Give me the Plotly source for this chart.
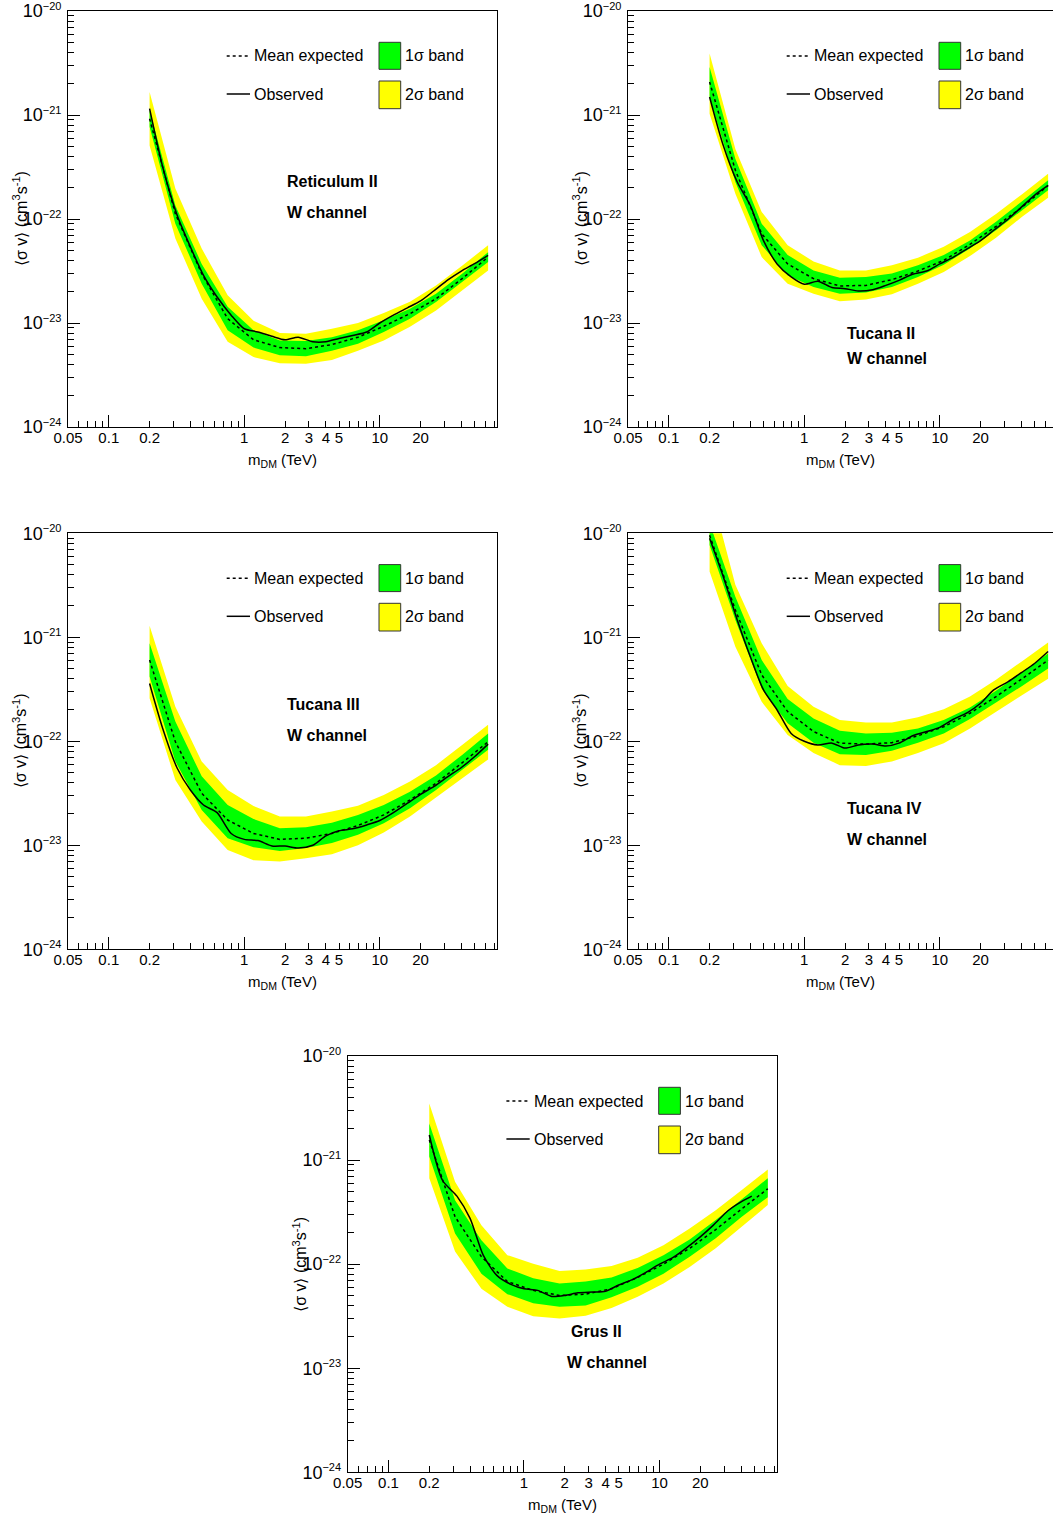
import math
import plotly.graph_objects as go

FIG_W, FIG_H = 1053, 1519
PX_PER_DECADE = 135.5
X_MIN = 0.05
FONT = "Liberation Sans, Arial, Helvetica, sans-serif"
YELLOW = "#ffff00"
GREEN = "#00ff00"

# ---------------- data (TeV, cm^3 s^-1) ----------------
mass_band = [0.2, 0.31, 0.485, 0.754, 1.17, 1.83, 2.85, 4.43, 6.9, 10.7, 16.7, 26.0, 40.5, 63.0]
mass_obs = [0.2, 0.25, 0.32, 0.4, 0.5, 0.63, 0.8, 1.0, 1.26, 1.6, 2.0, 2.5, 3.2, 4.0, 5.0,
            6.3, 8.0, 10, 12.6, 16, 20, 25, 32, 40, 50, 63]
mass_obs_grus = [0.2, 0.25, 0.32, 0.4, 0.5, 0.63, 0.8, 1.0, 1.26, 1.6, 2.0, 2.5, 3.2, 4.0, 5.0,
                 6.3, 8.0, 10, 12.6, 16, 20, 25, 32, 40, 48]

# Reticulum II
ret_2s_hi = [1.66e-21, 1.96e-22, 5.2e-23, 1.85e-23, 1.05e-23, 8.0e-24, 7.9e-24, 8.8e-24, 1.0e-23, 1.25e-23, 1.6e-23, 2.3e-23, 3.55e-23, 5.6e-23]
ret_2s_lo = [5.1e-22, 6.5e-23, 1.71e-23, 6.6e-24, 4.7e-24, 4.1e-24, 4.06e-24, 4.4e-24, 5.4e-24, 6.8e-24, 9.2e-24, 1.32e-23, 2.06e-23, 3.2e-23]
ret_1s_hi = [1.11e-21, 1.35e-22, 3.7e-23, 1.43e-23, 8.5e-24, 6.8e-24, 6.7e-24, 7.3e-24, 8.5e-24, 1.06e-23, 1.37e-23, 1.91e-23, 2.98e-23, 4.8e-23]
ret_1s_lo = [7.7e-22, 9.0e-23, 2.39e-23, 8.5e-24, 5.8e-24, 4.9e-24, 4.8e-24, 5.4e-24, 6.3e-24, 8.2e-24, 1.1e-23, 1.59e-23, 2.48e-23, 3.86e-23]
ret_mean = [9.2e-22, 1.12e-22, 2.98e-23, 1.1e-23, 6.9e-24, 5.8e-24, 5.66e-24, 6.2e-24, 7.3e-24, 9.3e-24, 1.23e-23, 1.71e-23, 2.67e-23, 4.3e-23]
ret_obs = [1.15e-21, 3.16e-22, 1.08e-22, 5.4e-23, 2.87e-23, 1.78e-23, 1.19e-23, 8.8e-24, 8.2e-24, 7.45e-24, 6.9e-24, 7.3e-24, 6.6e-24,
           6.6e-24, 7.1e-24, 7.6e-24, 8.2e-24, 1.0e-23, 1.19e-23, 1.40e-23, 1.63e-23, 2.03e-23, 2.61e-23, 3.16e-23, 3.72e-23, 4.48e-23]

# Tucana II
tuc2_2s_hi = [3.9e-21, 4.7e-22, 1.17e-22, 5.6e-23, 3.9e-23, 3.2e-23, 3.2e-23, 3.6e-23, 4.25e-23, 5.4e-23, 7.5e-23, 1.12e-22, 1.73e-22, 2.73e-22]
tuc2_2s_lo = [1.03e-21, 1.75e-22, 4.3e-23, 2.39e-23, 1.91e-23, 1.62e-23, 1.68e-23, 1.89e-23, 2.39e-23, 3.1e-23, 4.4e-23, 6.6e-23, 1.05e-22, 1.6e-22]
tuc2_1s_hi = [2.9e-21, 3.8e-22, 9.0e-23, 4.5e-23, 3.2e-23, 2.73e-23, 2.77e-23, 3.0e-23, 3.6e-23, 4.5e-23, 6.2e-23, 9.4e-23, 1.48e-22, 2.36e-22]
tuc2_1s_lo = [1.49e-21, 2.27e-22, 5.6e-23, 2.87e-23, 2.22e-23, 1.91e-23, 1.97e-23, 2.22e-23, 2.77e-23, 3.64e-23, 5.2e-23, 7.8e-23, 1.21e-22, 1.89e-22]
tuc2_mean = [2.08e-21, 2.94e-22, 7.2e-23, 3.7e-23, 2.67e-23, 2.27e-23, 2.3e-23, 2.61e-23, 3.16e-23, 4.0e-23, 5.7e-23, 8.5e-23, 1.3e-22, 2.1e-22]
tuc2_obs = [1.49e-21, 5.3e-22, 2.27e-22, 1.35e-22, 6.2e-23, 3.7e-23, 2.77e-23, 2.36e-23, 2.52e-23, 2.19e-23, 2.14e-23, 2.03e-23, 2.09e-23,
            2.3e-23, 2.57e-23, 2.94e-23, 3.16e-23, 3.7e-23, 4.3e-23, 5.2e-23, 6.2e-23, 7.8e-23, 1.0e-22, 1.3e-22, 1.69e-22, 2.1e-22]

# Tucana III
tuc3_2s_hi = [1.29e-21, 2.15e-22, 6.4e-23, 3.4e-23, 2.39e-23, 1.89e-23, 1.89e-23, 2.11e-23, 2.4e-23, 3.05e-23, 4.1e-23, 5.9e-23, 9.2e-23, 1.44e-22]
tuc3_2s_lo = [2.6e-22, 4.25e-23, 1.69e-23, 9.0e-24, 7.2e-24, 7.0e-24, 7.5e-24, 8.2e-24, 1.0e-23, 1.33e-23, 1.89e-23, 2.83e-23, 4.4e-23, 6.7e-23]
tuc3_1s_hi = [8.75e-22, 1.55e-22, 4.6e-23, 2.44e-23, 1.79e-23, 1.46e-23, 1.49e-23, 1.65e-23, 1.96e-23, 2.44e-23, 3.28e-23, 4.7e-23, 7.4e-23, 1.19e-22]
tuc3_1s_lo = [4.2e-22, 6.4e-23, 2.19e-23, 1.17e-23, 9.6e-24, 8.8e-24, 9.4e-24, 1.05e-23, 1.26e-23, 1.63e-23, 2.27e-23, 3.4e-23, 5.3e-23, 8.3e-23]
tuc3_mean = [6.05e-22, 9.9e-23, 3.16e-23, 1.75e-23, 1.3e-23, 1.14e-23, 1.17e-23, 1.3e-23, 1.55e-23, 1.96e-23, 2.73e-23, 3.95e-23, 6.2e-23, 9.9e-23]
tuc3_obs = [3.6e-22, 1.33e-22, 5.5e-23, 3.4e-23, 2.44e-23, 2.06e-23, 1.3e-23, 1.14e-23, 1.11e-23, 9.85e-24, 9.85e-24, 9.4e-24, 1.0e-23,
            1.23e-23, 1.38e-23, 1.44e-23, 1.57e-23, 1.73e-23, 2.06e-23, 2.54e-23, 3.09e-23, 3.67e-23, 4.6e-23, 5.6e-23, 7.1e-23, 9.4e-23]

# Tucana IV
tuc4_2s_hi = [2.81e-20, 3.2e-21, 8.75e-22, 3.4e-22, 2.15e-22, 1.6e-22, 1.52e-22, 1.52e-22, 1.7e-22, 2.03e-22, 2.69e-22, 3.9e-22, 5.9e-22, 8.9e-22]
tuc4_2s_lo = [4.3e-21, 8.1e-22, 2.4e-22, 1.15e-22, 7.7e-23, 5.9e-23, 5.8e-23, 6.4e-23, 7.7e-23, 9.6e-23, 1.33e-22, 1.93e-22, 2.79e-22, 4.0e-22]
tuc4_1s_hi = [1.25e-20, 2.46e-21, 6.05e-22, 2.55e-22, 1.66e-22, 1.26e-22, 1.19e-22, 1.21e-22, 1.33e-22, 1.6e-22, 2.11e-22, 3.07e-22, 4.6e-22, 7.0e-22]
tuc4_1s_lo = [7.7e-21, 1.47e-21, 3.2e-22, 1.49e-22, 9.7e-23, 7.5e-23, 7.4e-23, 8.1e-23, 9.7e-23, 1.19e-22, 1.64e-22, 2.36e-22, 3.4e-22, 5.0e-22]
tuc4_mean = [9.6e-21, 1.83e-21, 4.35e-22, 1.93e-22, 1.24e-22, 9.6e-23, 9.4e-23, 9.7e-23, 1.13e-22, 1.38e-22, 1.86e-22, 2.69e-22, 4.0e-22, 6.05e-22]
tuc4_obs = [8.95e-21, 3.97e-21, 1.47e-21, 6.5e-22, 3.12e-22, 2.0e-22, 1.19e-22, 1.0e-22, 9.2e-23, 9.6e-23, 8.6e-23, 9.2e-23, 9.4e-23,
            9.0e-23, 9.6e-23, 1.13e-22, 1.24e-22, 1.36e-22, 1.63e-22, 1.89e-22, 2.32e-22, 3.12e-22, 3.75e-22, 4.57e-22, 5.6e-22, 7.3e-22]

# Grus II
grus_2s_hi = [3.5e-21, 6.2e-22, 2.37e-22, 1.22e-22, 1.01e-22, 8.6e-23, 8.9e-23, 9.6e-23, 1.15e-22, 1.52e-22, 2.2e-22, 3.3e-22, 5.15e-22, 8.1e-22]
grus_2s_lo = [6.7e-22, 1.32e-22, 5.8e-23, 3.9e-23, 3.16e-23, 3.0e-23, 3.2e-23, 3.8e-23, 4.85e-23, 6.5e-23, 9.4e-23, 1.42e-22, 2.29e-22, 3.7e-22]
grus_1s_hi = [2.25e-21, 4.1e-22, 1.7e-22, 9.1e-23, 7.3e-23, 6.5e-23, 6.8e-23, 7.45e-23, 9.2e-23, 1.22e-22, 1.73e-22, 2.65e-22, 4.2e-22, 6.7e-22]
grus_1s_lo = [1.08e-21, 1.97e-22, 8.1e-23, 5.15e-23, 4.2e-23, 3.9e-23, 4.0e-23, 4.8e-23, 6.05e-23, 8.1e-23, 1.18e-22, 1.77e-22, 2.85e-22, 4.4e-22]
grus_mean = [1.56e-21, 2.85e-22, 1.18e-22, 6.8e-23, 5.6e-23, 5.0e-23, 5.15e-23, 5.8e-23, 7.45e-23, 1.0e-22, 1.42e-22, 2.15e-22, 3.4e-22, 5.3e-22]
grus_obs = [1.74e-21, 6.4e-22, 4.5e-22, 2.75e-22, 1.22e-22, 7.8e-23, 6.4e-23, 5.8e-23, 5.6e-23, 4.9e-23, 5.0e-23, 5.3e-23, 5.4e-23,
            5.5e-23, 6.3e-23, 7.1e-23, 8.4e-23, 1.0e-22, 1.16e-22, 1.45e-22, 1.83e-22, 2.37e-22, 3.26e-22, 3.97e-22, 4.5e-22]

x_tick_vals = [0.05, 0.1, 0.2, 1, 2, 3, 4, 5, 10, 20]
x_tick_text = ["0.05", "0.1", "0.2", "1", "2", "3", "4", "5", "10", "20"]
x_long_ticks = [0.1, 1, 10]
y_tick_vals = [1e-24, 1e-23, 1e-22, 1e-21, 1e-20]
y_exponents = ["\u221224", "\u221223", "\u221222", "\u221221", "\u221220"]
y_tick_text = ["10<sup><span style='font-size:11px'>" + e + "</span></sup>" for e in y_exponents]

# ---------------- layout of panels (pixel boxes) ----------------
panels = [
    dict(name="Reticulum II", box=(68, 11, 497, 427), mirror=True,
         lab1=(217, 171), lab2=(217, 201.5),
         d=(ret_2s_hi, ret_2s_lo, ret_1s_hi, ret_1s_lo, ret_mean, mass_obs, ret_obs)),
    dict(name="Tucana II", box=(628, 11, 1053, 427), mirror=False,
         lab1=(216.5, 322.5), lab2=(216.5, 347.5),
         d=(tuc2_2s_hi, tuc2_2s_lo, tuc2_1s_hi, tuc2_1s_lo, tuc2_mean, mass_obs, tuc2_obs)),
    dict(name="Tucana III", box=(68, 533.3, 497, 949.3), mirror=True,
         lab1=(217, 171), lab2=(217, 202.4),
         d=(tuc3_2s_hi, tuc3_2s_lo, tuc3_1s_hi, tuc3_1s_lo, tuc3_mean, mass_obs, tuc3_obs)),
    dict(name="Tucana IV", box=(628, 533.3, 1053, 949.3), mirror=False,
         lab1=(216.5, 275), lab2=(216.5, 306),
         d=(tuc4_2s_hi, tuc4_2s_lo, tuc4_1s_hi, tuc4_1s_lo, tuc4_mean, mass_obs, tuc4_obs)),
    dict(name="Grus II", box=(347.7, 1056, 777.3, 1472.3), mirror=True,
         lab1=(221.6, 275.7), lab2=(217.3, 306.3),
         d=(grus_2s_hi, grus_2s_lo, grus_1s_hi, grus_1s_lo, grus_mean, mass_obs_grus, grus_obs)),
]

minor_x = [0.06, 0.07, 0.08, 0.09, 0.3, 0.4, 0.5, 0.6, 0.7, 0.8, 0.9, 6, 7, 8, 9, 30, 40, 50, 60, 70]
minor_y = [k * 10.0 ** e for e in range(-24, -20) for k in range(2, 10)]

fig = go.Figure()
axes = {}
shapes = []
annots = []

for i, p in enumerate(panels, start=1):
    s = "" if i == 1 else str(i)
    xn, yn = "x" + s, "y" + s
    x0, y0, x1, y1 = p["box"]
    pw, ph = x1 - x0, y1 - y0
    xdom = [x0 / FIG_W, min(x1 / FIG_W, 1.0)]
    ydom = [1 - y1 / FIG_H, 1 - y0 / FIG_H]
    lo = math.log10(X_MIN)
    hi = lo + pw / PX_PER_DECADE
    y2h, y2l, y1h, y1l, mean, mo, obs = p["d"]
    m = mass_band

    fig.add_trace(go.Scatter(x=m + m[::-1], y=y2h + y2l[::-1], fill="toself", fillcolor=YELLOW,
                             mode="lines", line=dict(width=0), xaxis=xn, yaxis=yn,
                             showlegend=False, hoverinfo="skip"))
    fig.add_trace(go.Scatter(x=m + m[::-1], y=y1h + y1l[::-1], fill="toself", fillcolor=GREEN,
                             mode="lines", line=dict(width=0), xaxis=xn, yaxis=yn,
                             showlegend=False, hoverinfo="skip"))
    fig.add_trace(go.Scatter(x=m, y=mean, mode="lines",
                             line=dict(color="black", width=1.5, dash="3px,3px"),
                             xaxis=xn, yaxis=yn, showlegend=False))
    fig.add_trace(go.Scatter(x=mo, y=obs, mode="lines",
                             line=dict(color="black", width=1.5, shape="spline", smoothing=0.7),
                             xaxis=xn, yaxis=yn, showlegend=False))

    axes["xaxis" + s] = dict(
        domain=xdom, anchor=yn, type="log", range=[lo, hi],
        tickmode="array", tickvals=x_tick_vals, ticktext=x_tick_text,
        ticks="inside", ticklen=6, tickwidth=1, tickcolor="black",
        minor=dict(tickmode="array", tickvals=minor_x, ticks="inside", ticklen=6,
                   tickwidth=1, tickcolor="black", showgrid=False),
        showline=True, linecolor="black", linewidth=1, mirror=True,
        showgrid=False, zeroline=False, automargin=False,
        ticklabeloverflow="allow", ticklabelstandoff=-3,
        tickfont=dict(size=15, color="black"),
        title=dict(text="m<sub>DM</sub> (TeV)", font=dict(size=15, color="black"), standoff=9),
    )
    # long ticks at decades
    ov = "x" + str(5 + i)
    axes["xaxis" + str(5 + i)] = dict(
        overlaying=xn, anchor=yn, domain=xdom, type="log", range=[lo, hi],
        tickmode="array", tickvals=x_long_ticks, ticks="inside", ticklen=12, tickwidth=1,
        tickcolor="black", showticklabels=False, showline=False, showgrid=False,
        zeroline=False, automargin=False,
    )
    fig.add_trace(go.Scatter(x=[], y=[], xaxis=ov, yaxis=yn, showlegend=False, hoverinfo="skip"))

    axes["yaxis" + s] = dict(
        domain=ydom, anchor=xn, type="log", range=[-24, -20],
        tickmode="array", tickvals=y_tick_vals, ticktext=y_tick_text,
        ticks="inside", ticklen=12, tickwidth=1, tickcolor="black",
        minor=dict(tickmode="array", tickvals=minor_y, ticks="inside", ticklen=6,
                   tickwidth=1, tickcolor="black", showgrid=False),
        showline=True, linecolor="black", linewidth=1, mirror=p["mirror"],
        showgrid=False, zeroline=False, automargin=False,
        ticklabeloverflow="allow", ticklabelstandoff=2,
        tickfont=dict(size=18, color="black"),
    )

    xr, yr = xn + " domain", yn + " domain"

    # y-axis title
    annots.append(dict(text="\u27e8\u03c3 v\u27e9 (cm<sup>3</sup>s<sup>-1</sup>)", xref="paper", yref=yr,
                       x=(x0 - 48) / FIG_W, y=0.5, textangle=-90, xanchor="center", yanchor="middle",
                       showarrow=False, font=dict(size=16, color="black")))

    def fx(px):
        return px / pw

    def fy(py):
        return 1 - py / ph

    # legend: line samples
    shapes.append(dict(type="line", xref=xr, yref=yr, x0=fx(158.7), x1=fx(182), y0=fy(45), y1=fy(45),
                       line=dict(color="black", width=1.5, dash="3px,3px")))
    shapes.append(dict(type="line", xref=xr, yref=yr, x0=fx(158.7), x1=fx(182), y0=fy(83), y1=fy(83),
                       line=dict(color="black", width=1.5)))
    # legend: band boxes
    shapes.append(dict(type="rect", xref=xr, yref=yr, x0=fx(311), x1=fx(332.7), y0=fy(31.3), y1=fy(58.3),
                       fillcolor=GREEN, line=dict(color="#333333", width=1)))
    shapes.append(dict(type="rect", xref=xr, yref=yr, x0=fx(311), x1=fx(332.7), y0=fy(70), y1=fy(97.7),
                       fillcolor=YELLOW, line=dict(color="#333333", width=1)))
    for txt, px, py in [("Mean expected", 184, 45), ("Observed", 184, 83),
                        ("1\u03c3 band", 335, 45), ("2\u03c3 band", 335, 83)]:
        annots.append(dict(text=txt, xref=xr, yref=yr, x=fx(px), y=fy(py), xanchor="left",
                           yanchor="middle", showarrow=False, font=dict(size=16, color="black")))
    # dwarf name and channel
    annots.append(dict(text="<b>" + p["name"] + "</b>", xref=xr, yref=yr, x=fx(p["lab1"][0]),
                       y=fy(p["lab1"][1]), xanchor="left", yanchor="middle", showarrow=False,
                       font=dict(size=16, color="black")))
    annots.append(dict(text="<b>W channel</b>", xref=xr, yref=yr, x=fx(p["lab2"][0]),
                       y=fy(p["lab2"][1]), xanchor="left", yanchor="middle", showarrow=False,
                       font=dict(size=16, color="black")))

fig.update_layout(
    width=FIG_W, height=FIG_H, template="none",
    margin=dict(l=0, r=0, t=0, b=0),
    paper_bgcolor="white", plot_bgcolor="white",
    font=dict(family=FONT, color="black"),
    showlegend=False, shapes=shapes, annotations=annots,
    **axes,
)

fig.write_html("out.html", config={"displayModeBar": False},
               post_script="document.body.style.margin='0';document.body.style.overflow='hidden';")
